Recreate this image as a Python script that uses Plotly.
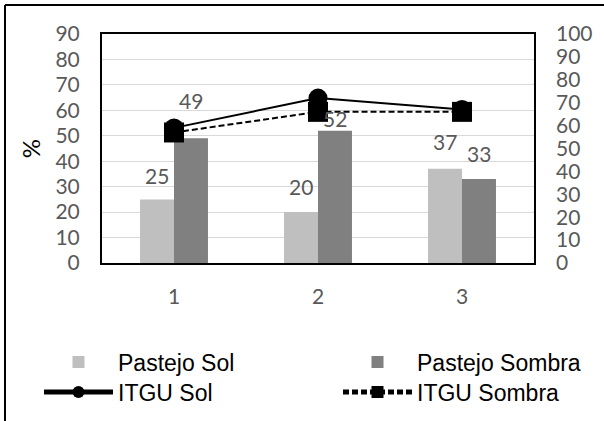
import plotly.graph_objects as go

categories = ["1", "2", "3"]
pastejo_sol = [25, 20, 37]
pastejo_sombra = [49, 52, 33]
itgu_sol = [59, 72, 67]
itgu_sombra = [57, 66, 66]
left_ticks = list(range(0, 91, 10))
right_ticks = list(range(0, 101, 10))

W, H = 604, 421
ML, MR, MT, MB = 102, 70, 34, 158
PW, PH = W - ML - MR, H - MT - MB

TICKFONT = dict(family="Lato, 'Open Sans', sans-serif", size=21, color="#595959")
LEGFONT = dict(family="'Liberation Sans', Arial, sans-serif", size=23, color="#000000")

fig = go.Figure()
fig.add_trace(go.Bar(x=categories, y=pastejo_sol, name="Pastejo Sol",
                     marker=dict(color="#bfbfbf", line=dict(width=0)), legend="legend"))
fig.add_trace(go.Bar(x=categories, y=pastejo_sombra, name="Pastejo Sombra",
                     marker=dict(color="#808080", line=dict(width=0)), legend="legend2"))
fig.add_trace(go.Scatter(x=categories, y=itgu_sol, name="ITGU Sol", yaxis="y2",
                         mode="lines+markers", line=dict(color="black", width=2),
                         marker=dict(symbol="circle", size=19, color="black"), legend="legend3"))
fig.add_trace(go.Scatter(x=categories, y=itgu_sombra, name="ITGU Sombra", yaxis="y2",
                         mode="lines+markers", line=dict(color="black", width=2, dash="6px,3px"),
                         marker=dict(symbol="square", size=20, color="black"), legend="legend4"))

# data labels
label_shift_sol = [24, 26, 27]
label_shift_sombra = [38, 12, 26]
bar_half = 17
for i, c in enumerate(categories):
    fig.add_annotation(x=i, y=pastejo_sol[i], text=str(pastejo_sol[i]), showarrow=False,
                       xshift=-bar_half, yshift=label_shift_sol[i], yanchor="middle",
                       font=TICKFONT)
    fig.add_annotation(x=i, y=pastejo_sombra[i], text=str(pastejo_sombra[i]), showarrow=False,
                       xshift=bar_half, yshift=label_shift_sombra[i], yanchor="middle",
                       font=TICKFONT)

def px_x(p):
    return (p - ML) / PW

def px_y(p):
    return (H - MB - p) / PH

# outer frame (top and left edges visible)
fig.add_shape(type="line", xref="paper", yref="paper", x0=px_x(5), x1=px_x(610),
              y0=px_y(5), y1=px_y(5), line=dict(color="black", width=2))
fig.add_shape(type="line", xref="paper", yref="paper", x0=px_x(5), x1=px_x(5),
              y0=px_y(5), y1=px_y(430), line=dict(color="black", width=2))

def leg(xp, yp):
    return dict(x=px_x(xp), y=px_y(yp), xanchor="left", yanchor="middle",
                orientation="v", font=LEGFONT, bgcolor="rgba(0,0,0,0)",
                itemwidth=69, itemsizing="constant")

fig.update_layout(
    width=W, height=H,
    margin=dict(l=ML, r=MR, t=MT, b=MB, autoexpand=False),
    paper_bgcolor="white", plot_bgcolor="white",
    barmode="group", bargap=0.528, bargroupgap=0,
    showlegend=True,
    legend=leg(39, 362),
    legend2=leg(338, 362),
    legend3=leg(39, 392),
    legend4=leg(338, 392),
    xaxis=dict(type="category", range=[-0.5, 2.5], showline=True, mirror=True,
               linecolor="black", linewidth=2,
               ticks="", tickfont=TICKFONT, ticklabelstandoff=14, showgrid=False,
               zeroline=False),
    yaxis=dict(range=[0, 90], tickvals=left_ticks, showline=True, mirror=True,
               linecolor="black", linewidth=2, showgrid=True, gridcolor="#d9d9d9",
               gridwidth=1, zeroline=False, ticks="", tickfont=TICKFONT,
               ticklabelstandoff=16,
               title=dict(text="%", font=dict(family="Lato, sans-serif", size=24, color="black"),
                          standoff=8)),
    yaxis2=dict(range=[0, 100], tickvals=right_ticks, overlaying="y", side="right",
                showgrid=False, zeroline=False, showline=False, ticks="",
                tickfont=TICKFONT, ticklabelstandoff=21),
)

fig.write_html("out.html")
